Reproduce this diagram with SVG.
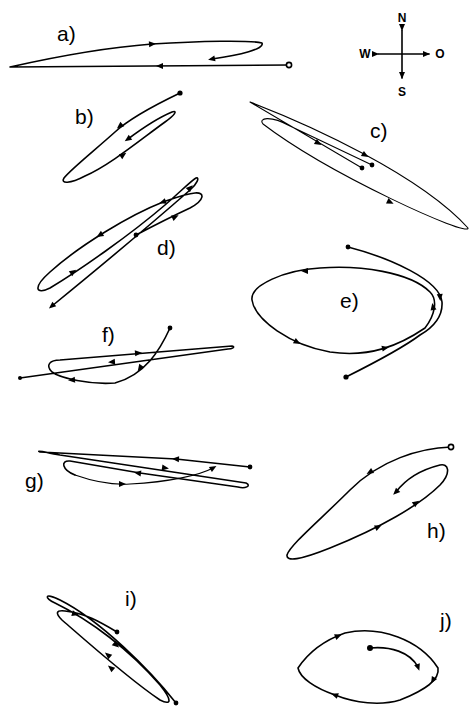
<svg xmlns="http://www.w3.org/2000/svg" xmlns:xlink="http://www.w3.org/1999/xlink" width="470" height="707" viewBox="0 0 470 707">
<style>
.t{fill:none;stroke:#000;stroke-width:1.6;stroke-linecap:round;stroke-linejoin:round}
.th{fill:none;stroke:#000;stroke-width:1.1;stroke-linecap:round;stroke-linejoin:round}
.lbl{font-family:"Liberation Sans",Arial,sans-serif;font-size:21px;fill:#000}
.cl{font-family:"Liberation Sans",Arial,sans-serif;font-size:12px;font-weight:bold;fill:#000;text-anchor:middle}
.dot{fill:#000}
.od{fill:#fff;stroke:#000;stroke-width:1.6}
</style>
<defs>
<path id="tri" d="M4,0 L-3,-3 L-3,3 Z" fill="#000"/>
<marker id="ah" markerWidth="8" markerHeight="8" refX="6" refY="4" orient="auto" markerUnits="userSpaceOnUse"><path d="M0,1 L7,4 L0,7 Z" fill="#000"/></marker>
</defs>
<rect width="470" height="707" fill="#fff"/>

<g id="compass">
<line class="t" x1="402" y1="30" x2="402" y2="78" marker-start="url(#ah)" marker-end="url(#ah)"/>
<line class="t" x1="378" y1="54" x2="429" y2="54" marker-start="url(#ah)" marker-end="url(#ah)"/>
<text class="cl" x="402" y="22">N</text>
<text class="cl" x="365" y="58">W</text>
<text class="cl" x="440" y="58">O</text>
<text class="cl" x="402" y="96" font-size="10">S</text>
</g>

<g id="panel-a">
<text class="lbl" x="57" y="41">a)</text>
<path class="t" d="M289,65 L10,67 C50,58 100,48 152,44 C200,41 250,40 262,43 C265,49 240,55 212,59"/>
<circle class="od" cx="289" cy="65" r="2.6"/>
<use xlink:href="#tri" transform="translate(160,66) rotate(180)"/>
<use xlink:href="#tri" transform="translate(152,44) rotate(-4)"/>
<use xlink:href="#tri" transform="translate(212,59) rotate(168)"/>
</g>

<g id="panel-b">
<text class="lbl" x="75" y="124">b)</text>
<path class="t" d="M180,93 C155,105 130,118 115,132 C95,150 70,170 64,178 C60,184 70,184 85,176 C110,165 140,140 165,122 C175,115 178,110 172,112 C160,117 140,130 128,139"/>
<circle class="dot" cx="180" cy="93" r="2.6"/>
<use xlink:href="#tri" transform="translate(120,126) rotate(140)"/>
<use xlink:href="#tri" transform="translate(123,155) rotate(-35)"/>
<use xlink:href="#tri" transform="translate(128,139) rotate(145)"/>
</g>

<g id="panel-c">
<text class="lbl" x="370" y="138">c)</text>
<path class="th" d="M362,168 L250,102 C310,125 420,175 468,228 C470,238 330,175 263,124 C258,118 270,115 290,126 L372,165"/>
<circle class="dot" cx="362" cy="168" r="2.4"/>
<circle class="dot" cx="372" cy="165" r="2.4"/>
<use xlink:href="#tri" transform="translate(318,143) rotate(30)"/>
<use xlink:href="#tri" transform="translate(365,155) rotate(30)"/>
<use xlink:href="#tri" transform="translate(390,202) rotate(25)"/>
</g>

<g id="panel-d">
<text class="lbl" x="157" y="255">d)</text>
<path class="t" d="M136,235 C155,225 175,215 190,208 C205,200 205,192 195,193 C185,194 175,198 163,202 C130,215 80,245 50,272 C32,288 36,295 50,288 C80,270 130,235 165,205 C180,192 192,180 196,178 C200,177 197,184 190,190 C150,225 90,275 52,306"/>
<circle class="dot" cx="136" cy="235" r="2.4"/>
<use xlink:href="#tri" transform="translate(175,217) rotate(-25)"/>
<use xlink:href="#tri" transform="translate(163,202) rotate(160)"/>
<use xlink:href="#tri" transform="translate(100,235) rotate(148)"/>
<use xlink:href="#tri" transform="translate(73,272) rotate(-35)"/>
<use xlink:href="#tri" transform="translate(190,188) rotate(-45)"/>
<use xlink:href="#tri" transform="translate(52,306) rotate(140)"/>
</g>

<g id="panel-e">
<text class="lbl" x="340" y="308">e)</text>
<path class="t" d="M425,328 C435,315 438,300 430,292 C410,272 360,265 320,268 C285,270 250,285 252,300 C255,320 290,345 330,352 C370,358 400,345 425,328"/>
<path class="t" d="M348,247 C390,258 440,280 442,302 C443,318 432,328 420,335 C400,350 370,365 346,377"/>
<circle class="dot" cx="348" cy="247" r="2.4"/>
<circle class="dot" cx="346" cy="377" r="2.6"/>
<use xlink:href="#tri" transform="translate(305,271) rotate(180)"/>
<use xlink:href="#tri" transform="translate(297,342) rotate(28)"/>
<use xlink:href="#tri" transform="translate(385,348) rotate(-12)"/>
<use xlink:href="#tri" transform="translate(440,297) rotate(85)"/>
<use xlink:href="#tri" transform="translate(433,307) rotate(-100)"/>
</g>

<g id="panel-f">
<text class="lbl" x="102" y="342">f)</text>
<path class="t" d="M170,328 C160,350 145,375 115,383 C90,385 60,378 52,372 C45,365 50,360 60,360 L232,346 C236,347 232,349 228,349 L20,378"/>
<circle class="dot" cx="170" cy="328" r="2.4"/>
<circle class="dot" cx="20" cy="378" r="2"/>
<use xlink:href="#tri" transform="translate(140,368) rotate(125)"/>
<use xlink:href="#tri" transform="translate(72,380) rotate(175)"/>
<use xlink:href="#tri" transform="translate(138,353) rotate(-5)"/>
<use xlink:href="#tri" transform="translate(112,362) rotate(175)"/>
</g>

<g id="panel-g">
<text class="lbl" x="25" y="488">g)</text>
<path class="t" d="M250,467 L176,459 L40,452 C35,450 45,452 60,455 L246,483 C252,486 245,489 238,487 L140,473 L70,461 C60,460 62,470 75,475"/>
<path class="th" d="M75,475 C95,482 115,485 130,484 C170,482 200,475 213,468"/>
<circle class="dot" cx="250" cy="467" r="2.4"/>
<use xlink:href="#tri" transform="translate(176,459) rotate(183)"/>
<use xlink:href="#tri" transform="translate(165,468) rotate(8)"/>
<use xlink:href="#tri" transform="translate(138,473) rotate(188)"/>
<use xlink:href="#tri" transform="translate(122,484) rotate(0)"/>
<use xlink:href="#tri" transform="translate(213,468) rotate(-30)"/>
</g>

<g id="panel-h">
<text class="lbl" x="427" y="538">h)</text>
<path class="t" d="M451,447 C420,448 380,460 350,490 C320,520 290,545 287,555 C286,562 300,560 330,548 C380,528 420,505 440,485 C452,472 448,463 440,465 C420,470 405,480 396,492"/>
<circle class="od" cx="451" cy="447" r="2.6"/>
<use xlink:href="#tri" transform="translate(370,472) rotate(150)"/>
<use xlink:href="#tri" transform="translate(378,527) rotate(-25)"/>
<use xlink:href="#tri" transform="translate(416,503) rotate(-35)"/>
<use xlink:href="#tri" transform="translate(396,492) rotate(135)"/>
</g>

<g id="panel-i">
<text class="lbl" x="125" y="606">i)</text>
<path class="t" d="M176,703 C150,670 100,620 60,600 C44,592 44,598 55,603 C90,620 130,650 160,685 C172,700 172,706 160,700 C130,680 85,640 62,620 C55,613 56,610 65,611 C85,613 100,622 117,632"/>
<circle class="dot" cx="117" cy="632" r="2.4"/>
<circle class="dot" cx="176" cy="703" r="2.4"/>
<use xlink:href="#tri" transform="translate(116,645) rotate(40)"/>
<use xlink:href="#tri" transform="translate(108,655) rotate(-140)"/>
<use xlink:href="#tri" transform="translate(111,668) rotate(-140)"/>
<use xlink:href="#tri" transform="translate(75,614) rotate(15)"/>
</g>

<g id="panel-j">
<text class="lbl" x="440" y="628">j)</text>
<path class="t" d="M298,668 C310,650 325,640 345,633 C380,625 420,640 438,668 C440,680 425,690 400,700 C380,706 355,703 335,695 C315,688 300,678 298,668"/>
<path class="t" d="M370,648 C390,646 410,652 418,667"/>
<circle class="dot" cx="370" cy="648" r="3"/>
<use xlink:href="#tri" transform="translate(338,636) rotate(-22)"/>
<use xlink:href="#tri" transform="translate(335,695) rotate(200)"/>
<use xlink:href="#tri" transform="translate(433,680) rotate(120)"/>
<use xlink:href="#tri" transform="translate(418,667) rotate(70)"/>
</g>
</svg>
